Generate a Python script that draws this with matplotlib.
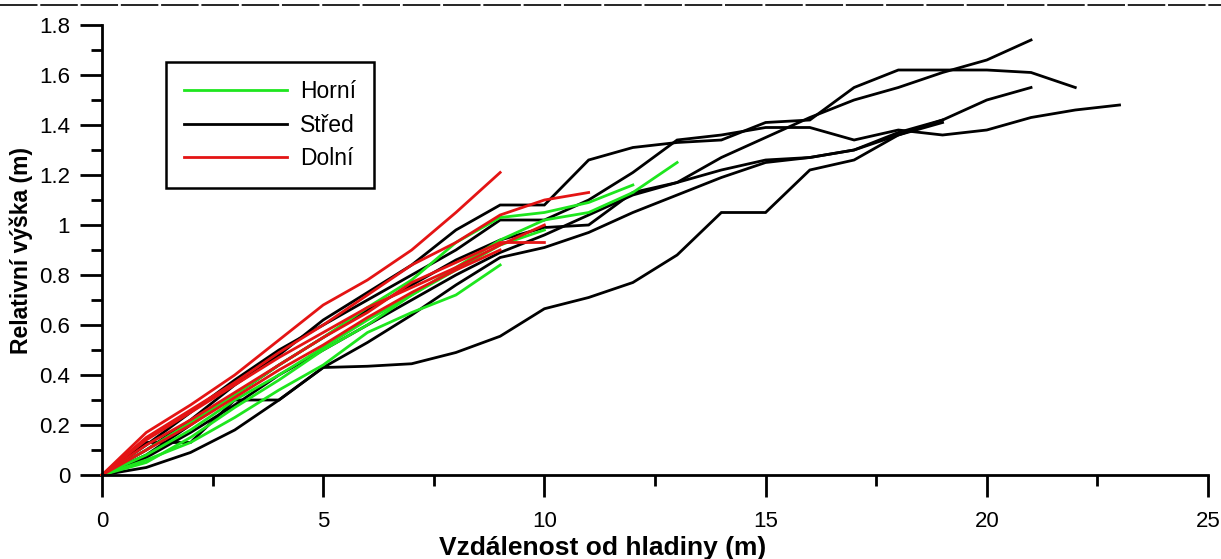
import numpy as np
import matplotlib
matplotlib.use('Agg')
import matplotlib.pyplot as plt
from matplotlib.lines import Line2D
from matplotlib.ticker import MultipleLocator, FuncFormatter

plt.rcParams['font.family'] = ['Liberation Sans', 'DejaVu Sans']
plt.rcParams['lines.scale_dashes'] = False

# >>> data (x = 0, 1, 2, ... m)
# Horni (green)
horni_a = [0, 0.08, 0.18, 0.30, 0.40, 0.51, 0.62, 0.72, 0.83, 0.94, 1.02, 1.05, 1.13, 1.25]
horni_b = [0, 0.10, 0.21, 0.32, 0.44, 0.55, 0.67, 0.78, 0.93, 1.03, 1.05, 1.09, 1.16]
horni_c = [0, 0.06, 0.13, 0.23, 0.34, 0.44, 0.57, 0.65, 0.72, 0.84]
horni_d = [0, 0.05, 0.15, 0.27, 0.38, 0.50, 0.60, 0.72, 0.82, 0.92, 0.98]
# Stred (black)
stred_a = [0, 0.08, 0.20, 0.32, 0.44, 0.55, 0.66, 0.76, 0.86, 0.94, 0.99, 1.00, 1.13, 1.17, 1.27, 1.35,
           1.43, 1.50, 1.55, 1.61, 1.66, 1.74]
stred_b = [0, 0.10, 0.22, 0.36, 0.48, 0.62, 0.73, 0.84, 0.98, 1.08, 1.08, 1.26, 1.31, 1.33, 1.34, 1.41,
           1.42, 1.55, 1.62, 1.62, 1.62, 1.61, 1.55]
stred_c = [0, 0.12, 0.25, 0.38, 0.50, 0.60, 0.70, 0.80, 0.90, 1.02, 1.02, 1.10, 1.21, 1.34, 1.36, 1.39,
           1.39, 1.34, 1.38, 1.36, 1.38, 1.43, 1.46, 1.48]
stred_d = [0, 0.13, 0.13, 0.30, 0.30, 0.43, 0.53, 0.64, 0.76, 0.87, 0.91, 0.97, 1.05, 1.12, 1.19, 1.25,
           1.27, 1.30, 1.37, 1.42, 1.50, 1.55]
stred_e = [0, 0.07, 0.17, 0.28, 0.40, 0.50, 0.60, 0.70, 0.80, 0.89, 0.96, 1.04, 1.12, 1.17, 1.22, 1.26,
           1.27, 1.30, 1.36, 1.42]
stred_f = [0, 0.03, 0.09, 0.18, 0.30, 0.43, 0.435, 0.445, 0.49, 0.555, 0.665, 0.71, 0.77, 0.88, 1.05, 1.05,
           1.22, 1.26, 1.36, 1.41]
# Dolni (red)
dolni_a = [0, 0.17, 0.28, 0.40, 0.54, 0.68, 0.78, 0.90, 1.05, 1.21]
dolni_b = [0, 0.15, 0.26, 0.37, 0.49, 0.60, 0.72, 0.84, 0.93, 1.04, 1.10, 1.13]
dolni_c = [0, 0.12, 0.22, 0.33, 0.44, 0.55, 0.65, 0.77, 0.85, 0.93, 0.93]
dolni_d = [0, 0.14, 0.25, 0.36, 0.47, 0.57, 0.67, 0.75, 0.83, 0.92, 1.00]
dolni_e = [0, 0.10, 0.20, 0.31, 0.42, 0.52, 0.63, 0.73, 0.82, 0.90]

lst_groups = [('Horní', '#1ee61e', [horni_a, horni_b, horni_c, horni_d]),
              ('Střed', 'black', [stred_a, stred_b, stred_c, stred_d, stred_e, stred_f]),
              ('Dolní', '#e41414', [dolni_a, dolni_b, dolni_c, dolni_d, dolni_e])]

fig = plt.figure(figsize=(12.21, 5.59), dpi=100)
ax = fig.add_axes([102 / 1221, 1 - 475 / 559, 1106 / 1221, 450 / 559])

# black first, then green, red on top
lst_handles = {}
for idx in [1, 0, 2]:
    name, col, lines = lst_groups[idx]
    for vals in lines:
        vct_x = np.arange(len(vals))
        h, = ax.plot(vct_x, vals, c=col, lw=2.0, solid_joinstyle='miter', clip_on=False)
    lst_handles[name] = h

ax.set_xlim(0, 25)
ax.set_ylim(0, 1.8)
ax.xaxis.set_major_locator(MultipleLocator(5))
ax.xaxis.set_minor_locator(MultipleLocator(2.5))
ax.yaxis.set_major_locator(MultipleLocator(0.2))
ax.yaxis.set_minor_locator(MultipleLocator(0.1))
ax.yaxis.set_major_formatter(FuncFormatter(lambda v, p: '%g' % round(v, 2)))

for s in ['top', 'right']:
    ax.spines[s].set_visible(False)
for s in ['left', 'bottom']:
    ax.spines[s].set_linewidth(2.0)

ax.tick_params(axis='x', which='major', direction='out', length=16, width=2.0, pad=10, labelsize=16)
ax.tick_params(axis='x', which='minor', direction='out', length=8, width=2.0)
ax.tick_params(axis='y', which='major', direction='out', length=16, width=2.0, pad=7, labelsize=16)
ax.tick_params(axis='y', which='minor', direction='out', length=8, width=2.0)

ax.set_xlabel('Vzdálenost od hladiny (m)', fontsize=19, fontweight='bold', labelpad=0)
ax.xaxis.set_label_coords(501 / 1106, -73 / 450, transform=ax.transAxes)
ax.xaxis.label.set_va('center')
ax.set_ylabel('Relativní výška (m)', fontsize=16.5, fontweight='bold', labelpad=4)

leg = ax.legend([lst_handles[n] for n in ['Horní', 'Střed', 'Dolní']], ['Horní', 'Střed', 'Dolní'],
                loc='upper left', bbox_to_anchor=(64 / 1106, 413 / 450), borderaxespad=0,
                fontsize=16.5, handlelength=4.5, handletextpad=0.55, labelspacing=0.45,
                borderpad=0.8, fancybox=False, framealpha=1, edgecolor='black')
leg.get_frame().set_linewidth(1.8)

# dashed rule along the top of the page
fig.add_artist(Line2D([0, 1], [1 - 5 / 559, 1 - 5 / 559], transform=fig.transFigure,
                      color='black', lw=1.2, linestyle=(0, (27, 2))))

fig.savefig('out.png', dpi=100)
